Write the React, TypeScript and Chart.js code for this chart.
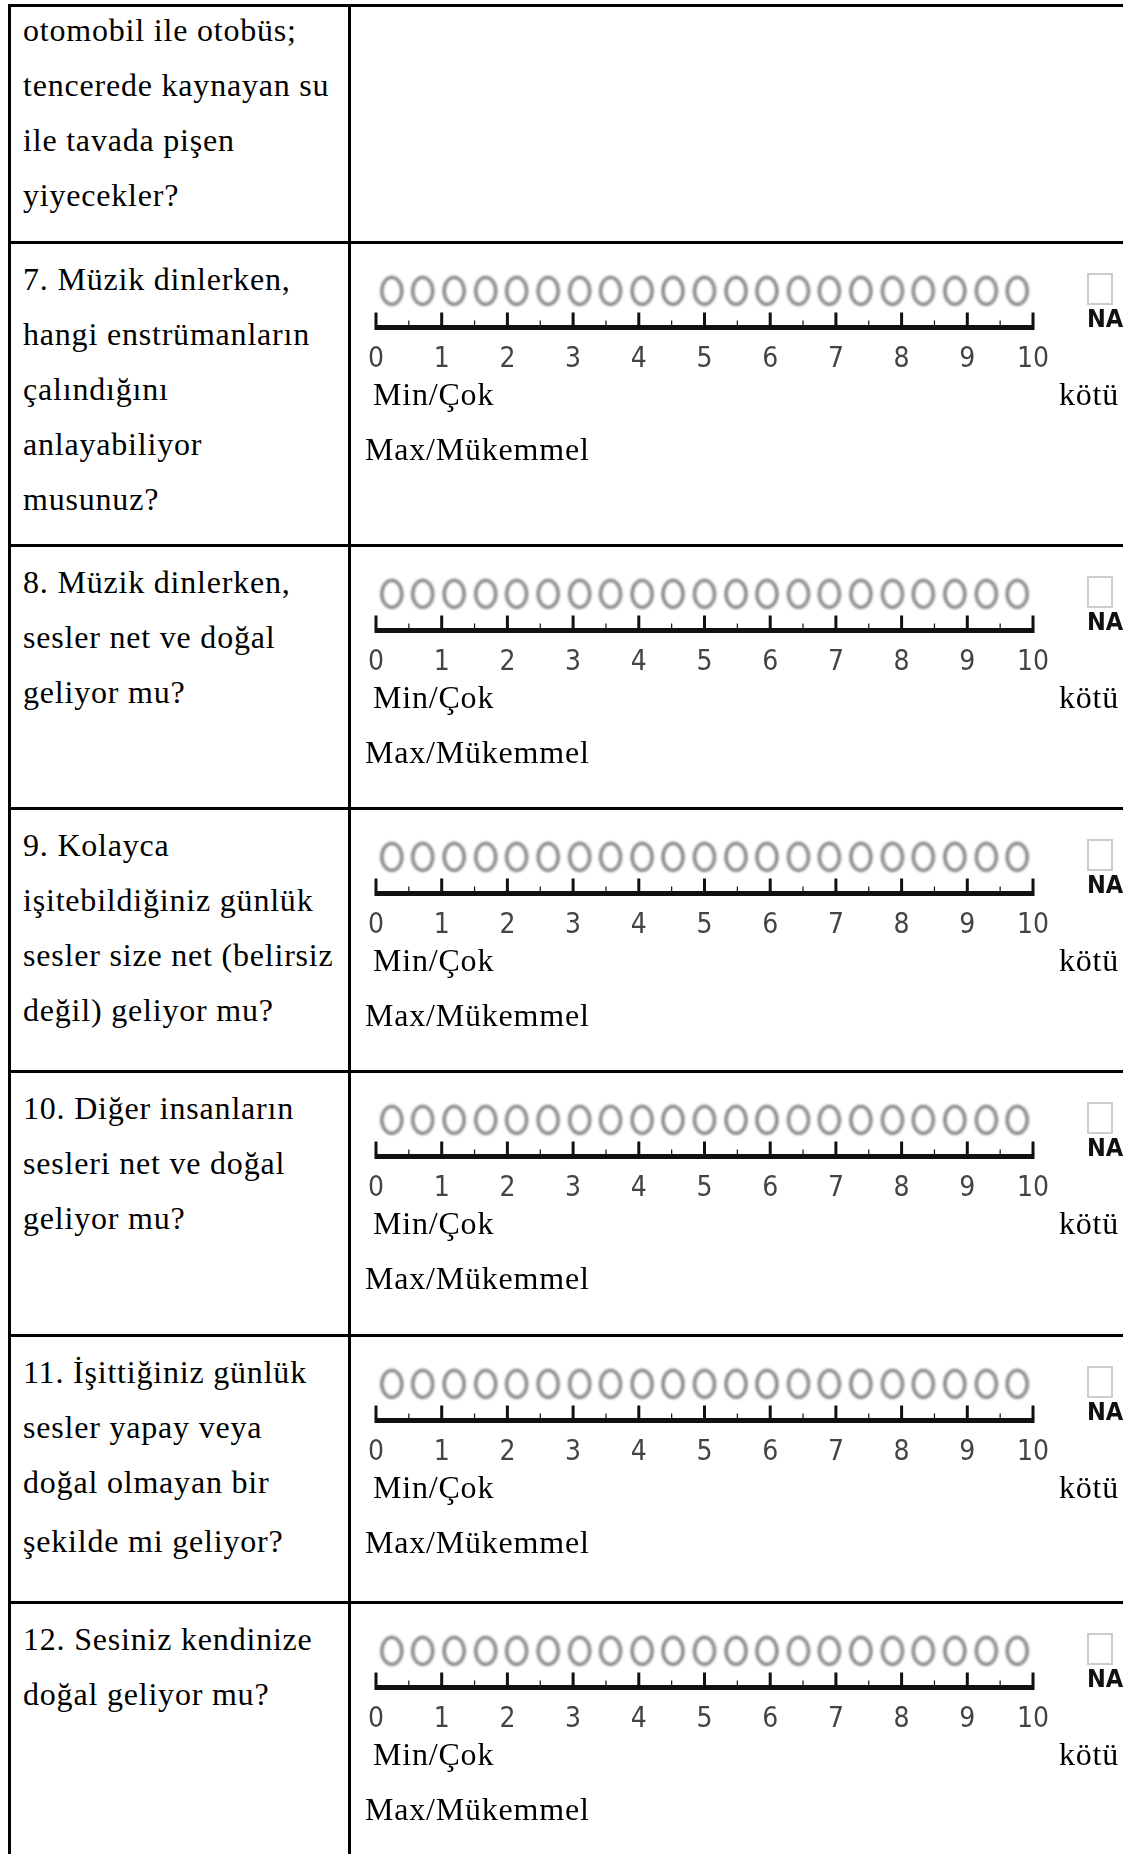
import React, { useEffect, useRef } from 'react';
import { Chart, registerables } from 'chart.js';

Chart.register(...registerables);

// ---------- data ----------
const continuationLines = ['otomobil ile otobüs;', 'tencerede kaynayan su', 'ile tavada pişen', 'yiyecekler?'];
const q7Lines = ['7. Müzik dinlerken,', 'hangi enstrümanların', 'çalındığını', 'anlayabiliyor', 'musunuz?'];
const q8Lines = ['8. Müzik dinlerken,', 'sesler net ve doğal', 'geliyor mu?'];
const q9Lines = ['9. Kolayca', 'işitebildiğiniz günlük', 'sesler size net (belirsiz', 'değil) geliyor mu?'];
const q10Lines = ['10. Diğer insanların', 'sesleri net ve doğal', 'geliyor mu?'];
const q11Lines = ['11. İşittiğiniz günlük', 'sesler yapay veya', 'doğal olmayan bir', 'şekilde mi geliyor?'];
const q12Lines = ['12. Sesiniz kendinize', 'doğal geliyor mu?'];
const questions = [q7Lines, q8Lines, q9Lines, q10Lines, q11Lines, q12Lines];

const tickLabels = ['0', '1', '2', '3', '4', '5', '6', '7', '8', '9', '10'];
// 21 answer circles laid across the 0–10 ruler
const optionPositions = [0.24, 0.71, 1.19, 1.67, 2.14, 2.62, 3.1, 3.57, 4.05, 4.52, 5.0, 5.48, 5.95, 6.43, 6.9, 7.38, 7.86, 8.33, 8.81, 9.29, 9.76];
const optionLevel = [1, 1, 1, 1, 1, 1, 1, 1, 1, 1, 1, 1, 1, 1, 1, 1, 1, 1, 1, 1, 1];

const minLabel = 'Min/Çok';
const maxLabel = 'Max/Mükemmel';
const badLabel = 'kötü';
const naLabel = 'NA';

// ---------- layout ----------
const ROW_TOPS = [241, 544, 807, 1070, 1334, 1601];
const LINE = 3;
const SERIF = "'Liberation Serif', 'Times New Roman', Times, serif";
const NARROW = "'Liberation Sans Narrow', 'Arial Narrow', 'DejaVu Sans Condensed', 'DejaVu Sans', sans-serif";

const textStyle: React.CSSProperties = {
  position: 'absolute',
  fontFamily: SERIF,
  fontSize: 32,
  letterSpacing: '0.8px',
  lineHeight: '55px',
  color: '#000',
  whiteSpace: 'nowrap',
  margin: 0,
};

function makeRing(): HTMLCanvasElement {
  const c = document.createElement('canvas');
  c.width = 32;
  c.height = 38;
  const g = c.getContext('2d')!;
  (g as any).filter = 'blur(0.8px)';
  g.strokeStyle = '#8c8c8c';
  g.lineWidth = 3.6;
  g.beginPath();
  g.ellipse(16, 19, 10, 13.5, 0, 0, Math.PI * 2);
  g.stroke();
  return c;
}

const rulerPlugin = {
  id: 'ruler',
  beforeDatasetsDraw(chart: any) {
    const { ctx, chartArea } = chart;
    const x = chart.scales.x;
    const xm = chart.scales.xMinor;
    const base = chartArea.bottom - 3;
    const x0 = x.getPixelForValue(x.min);
    const x1 = x.getPixelForValue(x.max);
    ctx.save();
    ctx.fillStyle = '#111';
    ctx.fillRect(x0 - 1.5, base - 2.5, x1 - x0 + 3, 5);
    xm.ticks.forEach((t: any) => {
      const px = xm.getPixelForValue(t.value);
      ctx.fillRect(px - 0.6, base - 7, 1.2, 5);
    });
    x.ticks.forEach((t: any) => {
      const px = x.getPixelForValue(t.value);
      ctx.fillRect(px - 1.5, base - 15, 3, 13);
    });
    ctx.restore();
  },
};

function RatingScale() {
  const ref = useRef<HTMLCanvasElement>(null);
  useEffect(() => {
    if (!ref.current) return;
    const ring = makeRing();
    const chart = new Chart(ref.current, {
      type: 'scatter',
      data: {
        datasets: [
          {
            data: optionPositions.map((v, i) => ({ x: v, y: optionLevel[i] })),
            pointStyle: ring as any,
            showLine: false,
            clip: false as any,
          },
        ],
      },
      options: {
        animation: false,
        responsive: false,
        devicePixelRatio: 1,
        events: [],
        layout: { padding: { left: 24, right: 90, top: 8, bottom: 0 } },
        plugins: { legend: { display: false }, tooltip: { enabled: false } },
        scales: {
          x: {
            type: 'linear',
            position: 'bottom',
            min: 0,
            max: 10,
            offset: false,
            grid: { display: false, drawTicks: false, tickLength: 0 },
            border: { display: false },
            ticks: {
              stepSize: 1,
              autoSkip: false,
              maxRotation: 0,
              minRotation: 0,
              padding: 12,
              color: '#444',
              font: { family: NARROW, size: 28, weight: 'condensed' as any },
              callback: (_v: any, i: number) => tickLabels[i],
            },
          },
          xMinor: {
            type: 'linear',
            axis: 'x',
            display: false,
            min: 0,
            max: 10,
            ticks: { stepSize: 0.1 },
          },
          y: { display: false, min: 0, max: 1.4 },
        },
      } as any,
      plugins: [rulerPlugin],
    });
    return () => chart.destroy();
  }, []);
  return <canvas ref={ref} width={771} height={119} style={{ width: 771, height: 119, display: 'block' }} />;
}

function QuestionRow({ top, lines, index }: { top: number; lines: string[]; index: number }) {
  return (
    <>
      <div style={{ ...textStyle, left: 23, top: top + 11 }}>
        {lines.map((l, i) => (
          <div key={i} style={{ marginTop: index === 4 && i === 3 ? 4 : 0 }}>{l}</div>
        ))}
      </div>
      <div style={{ position: 'absolute', left: 352, top: top + 26 }}>
        <RatingScale />
      </div>
      <div
        style={{
          position: 'absolute',
          left: 1087,
          top: top + 32,
          width: 26,
          height: 32,
          boxSizing: 'border-box',
          border: '2px solid #cdcdcd',
        }}
      />
      <div
        style={{
          position: 'absolute',
          left: 1087,
          top: top + 65,
          fontFamily: NARROW,
          fontStretch: 'condensed',
          fontWeight: 'bold',
          fontSize: 25,
          lineHeight: '25px',
          color: '#111',
        }}
      >
        {naLabel}
      </div>
      <div style={{ ...textStyle, left: 373, top: top + 126 }}>{minLabel}</div>
      <div style={{ ...textStyle, left: 1059, top: top + 126 }}>{badLabel}</div>
      <div style={{ ...textStyle, left: 365, top: top + 181 }}>{maxLabel}</div>
    </>
  );
}

export default function App() {
  return (
    <div
      style={{
        position: 'absolute',
        left: 0,
        top: 0,
        width: 1123,
        height: 1854,
        overflow: 'hidden',
        background: '#fff',
      }}
    >
      {/* table lines */}
      <div style={{ position: 'absolute', left: 8, top: 4, width: 1115, height: LINE, background: '#000' }} />
      <div style={{ position: 'absolute', left: 8, top: 4, width: LINE, height: 1850, background: '#000' }} />
      <div style={{ position: 'absolute', left: 348, top: 4, width: LINE, height: 1850, background: '#000' }} />
      {ROW_TOPS.map((t, i) => (
        <div key={i} style={{ position: 'absolute', left: 8, top: t, width: 1115, height: LINE, background: '#000' }} />
      ))}

      <div style={{ ...textStyle, left: 23, top: 3 }}>
        {continuationLines.map((l, i) => (
          <div key={i}>{l}</div>
        ))}
      </div>

      {questions.map((lines, i) => (
        <QuestionRow key={i} top={ROW_TOPS[i]} lines={lines} index={i} />
      ))}
    </div>
  );
}
